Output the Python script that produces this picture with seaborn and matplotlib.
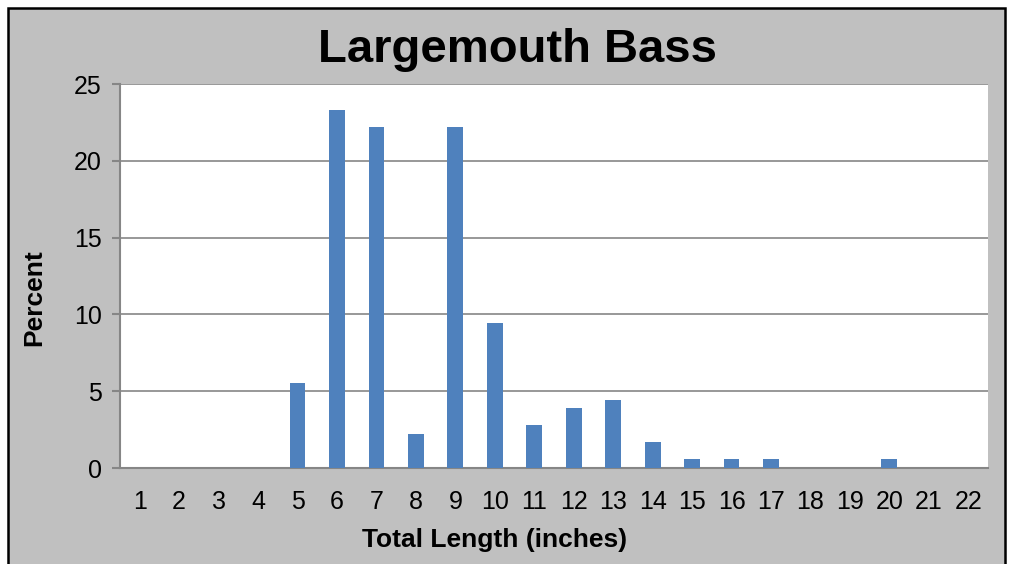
import numpy as np
import pandas as pd
import seaborn as sns
import matplotlib.pyplot as plt
from matplotlib.patches import Rectangle
from matplotlib.ticker import FixedLocator

# data (percent of fish per inch class)
lengths = [str(i) for i in range(1, 23)]
percents = [0, 0, 0, 0, 5.56, 23.33, 22.22, 2.22, 22.22, 9.44, 2.78,
            3.89, 4.44, 1.67, 0.56, 0.56, 0.56, 0, 0, 0.56, 0, 0]

sns.set_style("white")
plt.rcParams['font.family'] = ['Liberation Sans', 'DejaVu Sans']
plt.rcParams['text.color'] = 'black'
plt.rcParams['axes.labelcolor'] = 'black'
plt.rcParams['xtick.color'] = 'black'
plt.rcParams['ytick.color'] = 'black'

df = pd.DataFrame({"length": lengths, "percent": percents})

fig = plt.figure(figsize=(10.09, 5.64), dpi=100)
fig.patch.set_facecolor("white")
# gray chart area with black frame
fig.patches.append(Rectangle((7.5 / 1009, -0.05), 997.5 / 1009, 1 - 7.5 / 564 + 0.05,
                             transform=fig.transFigure, facecolor="#C0C0C0",
                             edgecolor="black", linewidth=1.8, zorder=-5))

ax = fig.add_axes([120 / 1009, 1 - 468 / 564, 868 / 1009, 384 / 564])
ax.set_facecolor("white")
sns.barplot(data=df, x="length", y="percent", color="#4F81BD", width=0.4,
            saturation=1, linewidth=0, ax=ax, zorder=3)

ax.set_ylim(0, 25)
ax.set_xlim(-0.5, len(lengths) - 0.5)
ax.set_yticks([0, 5, 10, 15, 20, 25])
ax.yaxis.grid(True, color="#868686", linewidth=1.2, zorder=0)
ax.set_axisbelow(True)

for s in ["top", "right"]:
    ax.spines[s].set_visible(False)
for s in ["left", "bottom"]:
    ax.spines[s].set_color("#868686")
    ax.spines[s].set_linewidth(1.5)

# Excel-style ticks between categories
ax.xaxis.set_minor_locator(FixedLocator(np.arange(-0.5, len(lengths), 1)))
ax.tick_params(axis="x", which="major", length=0, labelsize=18, pad=16)
ax.tick_params(axis="x", which="minor", length=6, width=1.5, color="#868686", direction="out")
ax.tick_params(axis="y", which="major", length=6, width=1.5, color="#868686",
               labelcolor="black", direction="out", labelsize=18, pad=7, left=True)

ax.set_xlabel("")
ax.set_ylabel("")
fig.text(495 / 1009, 1 - 540 / 564, "Total Length (inches)", ha="center", va="center",
         fontsize=19, fontweight="bold")
fig.text(34 / 1009, 1 - 298 / 564, "Percent", ha="center", va="center",
         rotation=90, fontsize=19, fontweight="bold")
fig.text(517 / 1009, 1 - 50 / 564, "Largemouth Bass", ha="center", va="center",
         fontsize=34, fontweight="bold")

fig.savefig("out.png", dpi=100, facecolor=fig.get_facecolor())
